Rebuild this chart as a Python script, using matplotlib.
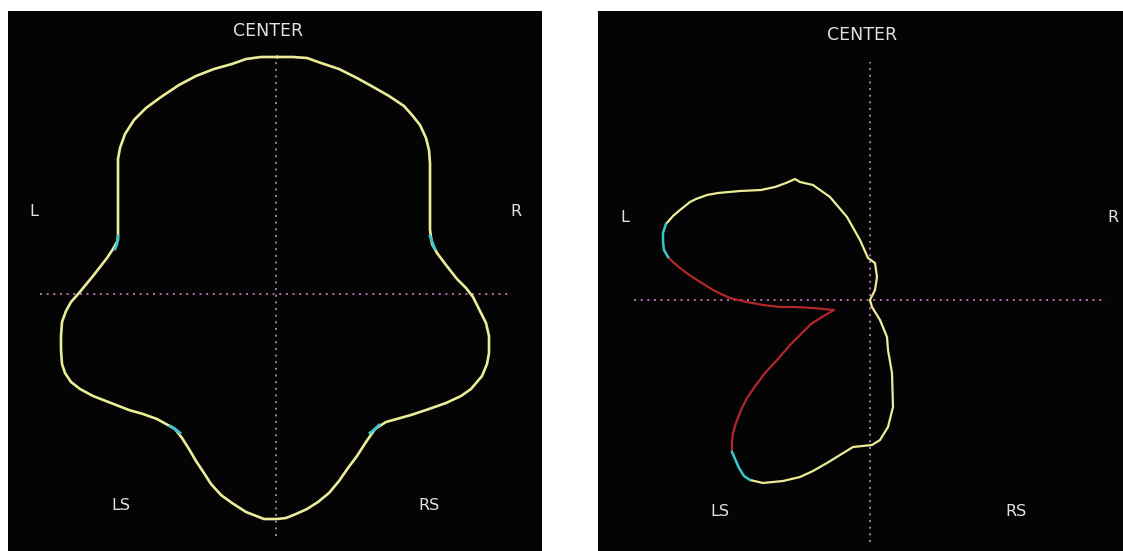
import matplotlib
matplotlib.use("Agg")
import matplotlib.pyplot as plt

# ---------------- data (pixel offsets from the scope centre, y up) ----------------
channel_labels = ["CENTER", "L", "R", "LS", "RS"]

# left scope: full closed outline (yellow), clockwise from the top
left_x = [1, 17, 31, 45, 63, 81, 99, 113, 128, 136, 144, 150, 153, 154, 154, 154, 156,
          161, 170, 181, 190, 197, 204, 210, 213, 213, 211, 206, 195, 185, 170, 153, 135,
          110, 99, 90, 81, 72, 63, 53, 42, 31, 20, 10, 1,
          -12, -30, -44, -55, -65, -72, -80, -87, -94, -101, -119, -133, -147, -165, -183,
          -196, -205, -211, -214, -215, -215, -214, -210, -205, -197, -183, -169, -163,
          -158, -158, -158, -156, -151, -142, -130, -115, -97, -80, -62, -44, -30, -15, 1]
left_y = [237, 237, 236, 231, 225, 216, 206, 198, 188, 179, 169, 156, 144, 131, 100, 64,
          50, 41, 29, 15, 6, -3, -17, -29, -42, -59, -70, -82, -95, -102, -109, -115,
          -121, -128, -135, -148, -162, -174, -187, -199, -208, -215, -220, -224, -225,
          -225, -218, -209, -201, -190, -179, -167, -155, -144, -135, -125, -120, -116,
          -109, -102, -95, -88, -79, -70, -56, -42, -28, -17, -8, 1, 18, 36, 45,
          54, 100, 135, 146, 160, 174, 186, 197, 209, 218, 225, 230, 235, 237, 237]
# left scope: short cyan pieces
left_cyan = [
    ([154, 157, 159], [58, 50, 45]),
    ([-158, -159, -161], [58, 50, 45]),
    ([-106, -101, -96], [-132, -135, -139]),
    ([94, 99, 103], [-139, -135, -131]),
]

# right scope: yellow part
right_yel_x = [-204, -197, -190, -180, -174, -163, -152, -130, -109, -95, -84, -75, -70,
               -57, -40, -23, -10, -2, 5, 7, 5, 0, 2, 10, 17, 18, 22, 23, 18, 10, 2, -17,
               -30, -43, -57, -70, -87, -107, -120]
right_yel_y = [76, 84, 90, 98, 101, 105, 107, 109, 110, 113, 117, 121, 118, 115, 103, 83,
               60, 42, 37, 23, 10, 0, -7, -20, -37, -50, -73, -107, -127, -140, -145,
               -147, -155, -163, -171, -177, -181, -183, -180]
# right scope: cyan pieces
right_cyan = [
    ([-120, -126, -131, -138], [-180, -176, -168, -152]),
    ([-202, -206, -207, -207, -204], [43, 50, 58, 67, 76]),
]
# right scope: red (out of phase) part
right_red_x = [-138, -138, -137, -134, -129, -123, -114, -105, -92, -80, -70, -59, -48,
               -36, -57, -75, -90, -107, -123, -132, -140, -149, -157, -165, -173, -182,
               -190, -197, -202]
right_red_y = [-152, -142, -133, -123, -110, -98, -85, -73, -59, -45, -35, -24, -17,
               -10, -8, -7, -7, -5, -2, 0, 2, 6, 10, 15, 20, 26, 32, 38, 43]

# ---------------- styling ----------------
BG = "#040404"
YEL = "#ecec98"
CYAN = "#3cc4cc"
RED = "#b2262c"
GRID = "#a66ea0"
TXT = "#e2e2e2"

W, H = 1123, 551
fig = plt.figure(figsize=(W / 100, H / 100), dpi=100, facecolor="white")


def make_axes(px0, px1, py0, py1, cx, cy):
    ax = fig.add_axes([px0 / W, 1 - py1 / H, (px1 - px0) / W, (py1 - py0) / H])
    ax.set_facecolor(BG)
    ax.set_xlim(px0 - cx, px1 - cx)
    ax.set_ylim(cy - py1, cy - py0)
    ax.set_xticks([])
    ax.set_yticks([])
    for s in ax.spines.values():
        s.set_visible(False)
    return ax


def crosshair(ax, hx, vy):
    kw = dict(color=GRID, lw=1.45, linestyle=(0, (1, 2.3)), dash_capstyle="butt", zorder=1)
    ax.plot(hx, [0, 0], **kw)
    ax.plot([0, 0], vy, **kw)


def labels(ax, pos):
    for name in channel_labels:
        x, y = pos[name]
        ax.text(x, y, name, color=TXT, fontsize=11.5 if name != "CENTER" else 12.5,
                ha="center", va="center", family="DejaVu Sans")


# left panel
axL = make_axes(8, 542, 11, 551, 276, 294)
crosshair(axL, [-236, 236], [-242, 238])
axL.plot(left_x, left_y, color=YEL, lw=1.9, solid_joinstyle="round", zorder=3)
for cx_, cy_ in left_cyan:
    axL.plot(cx_, cy_, color=CYAN, lw=2.0, zorder=4)
labels(axL, {"CENTER": (-8, 263), "L": (-242, 82), "R": (240, 82),
             "LS": (-155, -211), "RS": (153, -212)})

# right panel
axR = make_axes(598, 1123, 11, 551, 870, 300)
crosshair(axR, [-236, 236], [-242, 238])
axR.plot(right_yel_x, right_yel_y, color=YEL, lw=1.6, solid_joinstyle="round", zorder=3)
for cx_, cy_ in right_cyan:
    axR.plot(cx_, cy_, color=CYAN, lw=1.8, zorder=4)
axR.plot(right_red_x, right_red_y, color=RED, lw=1.6, solid_joinstyle="round", zorder=3)
labels(axR, {"CENTER": (-8, 265), "L": (-245, 82), "R": (243, 82),
             "LS": (-150, -212), "RS": (146, -212)})

fig.savefig("out.png", dpi=100, facecolor="white")
